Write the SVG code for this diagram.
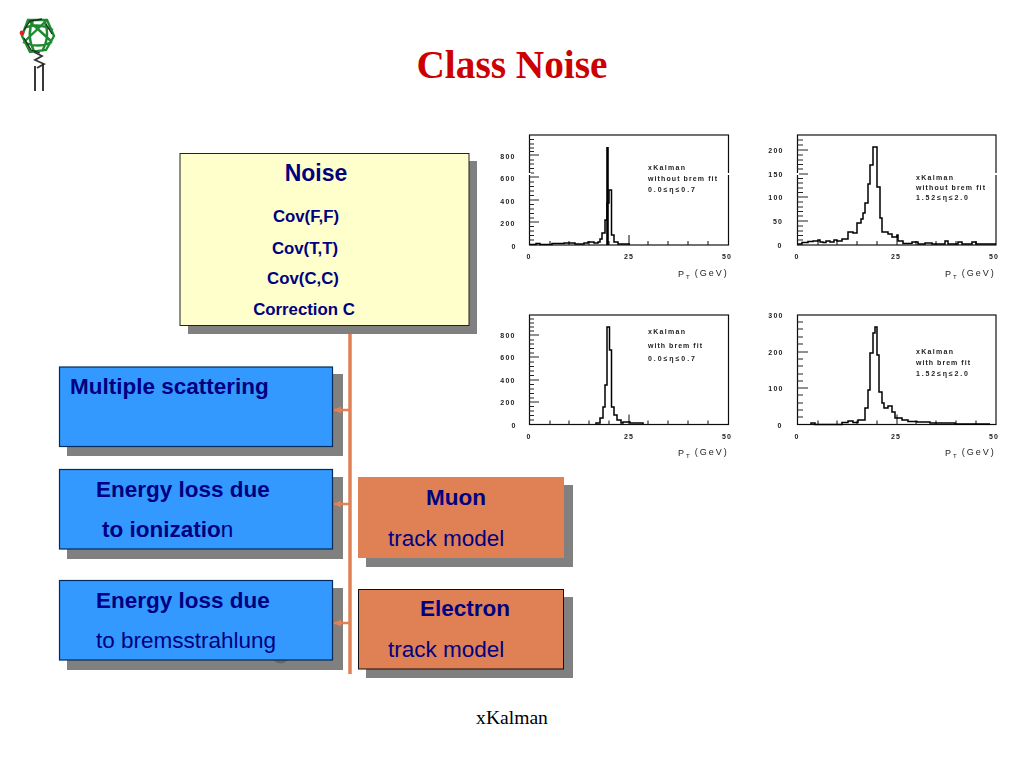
<svg xmlns="http://www.w3.org/2000/svg" width="1024" height="768" viewBox="0 0 1024 768">
<style>
text{font-family:"Liberation Sans",Arial,sans-serif;fill:#000080}
.title{font-family:"Liberation Serif","Times New Roman",serif;font-weight:700;font-size:39.300px;fill:#cc0000;text-anchor:middle}
.foot{font-family:"Liberation Serif","Times New Roman",serif;font-size:19.600px;fill:#000;text-anchor:middle}
.b{font-weight:700;font-size:22.500px}
.r{font-size:22.500px}
.c{font-weight:700;font-size:16.800px;text-anchor:middle}
.sh{fill:#808080}
.blue{fill:#3399ff;stroke:#002a5c;stroke-width:1.2}
.or{fill:#e08055}
.yl{fill:#ffffcc;stroke:#222;stroke-width:1}
.frame{fill:none;stroke:#111;stroke-width:1.2}
.tick{fill:none;stroke:#222;stroke-width:1.1}
.hist{fill:none;stroke:#000;stroke-width:1.5}
.peak{fill:none;stroke:#000;stroke-width:2.6}
.gap{stroke:#fff;stroke-width:2}
.p{filter:url(#soft)}
.p text{fill:#222;font-size:7px;font-weight:700}
.n{text-anchor:middle;letter-spacing:1.2px}
.pt{font-size:9px!important;font-weight:400!important;letter-spacing:2px}
.conn{fill:none;stroke:#e08055;stroke-width:3.500}
.arm{fill:none;stroke:#e08055;stroke-width:2.500}
.wire{fill:none;stroke:#1f8a2e;stroke-width:2.400}
.dark{fill:none;stroke:#1c2a1c;stroke-width:1.300}
</style>
<defs>
<filter id="soft" x="-5%" y="-5%" width="110%" height="110%"><feGaussianBlur stdDeviation="0.35"/></filter>
<marker id="ah" markerUnits="userSpaceOnUse" markerWidth="8" markerHeight="8" refX="7" refY="4" orient="auto"><path d="M0 0.6L7 4L0 7.400z" fill="#e08055"/></marker>
<g id="xt"><path class="tick" d="M21 0v-4M40 0v-4M60 0v-4M80 0v-4M100 0v-10M119 0v-4M139 0v-4M159 0v-4M179 0v-4"/></g>
</defs>

<text class="title" x="512" y="78">Class Noise</text>
<text class="foot" x="512" y="724">xKalman</text>

<g id="logo" filter="url(#soft)">
<path class="wire" d="M28 20L47 20L54 36L46 50L30 52L22 36zM24 28Q38 22 53 30M23 42Q38 49 52 42M33 20Q26 36 34 51M44 20Q51 36 42 51M28 20L52 42M47 20L24 42"/>
<path class="dark" d="M24 30L30 21L42 19M24 38L31 50L40 53M46 24L52 34"/>
<path d="M34 52L42 56L35 60L44 64L37 68" fill="none" stroke="#333" stroke-width="1.800"/>
<path d="M35 66V91M43 64V91" fill="none" stroke="#222" stroke-width="1.800"/>
<circle cx="22" cy="33" r="2.400" fill="#e02020"/>
</g>

<g id="noise">
<rect class="sh" x="188" y="161" width="289" height="173"/>
<rect class="yl" x="180" y="153.500" width="289" height="172"/>
<text x="316" y="181" font-size="23" font-weight="700" text-anchor="middle">Noise</text>
<text class="c" x="306" y="222">Cov(F,F)</text>
<text class="c" x="305" y="254">Cov(T,T)</text>
<text class="c" x="303" y="284">Cov(C,C)</text>
<text class="c" x="304" y="315">Correction C</text>
</g>

<g id="multiple-scattering">
<rect class="sh" x="67" y="374" width="276" height="82"/>
<rect class="blue" x="59.500" y="367" width="273" height="79.500"/>
<text class="b" x="70" y="394">Multiple scattering</text>
</g>

<g id="energy-ionization">
<rect class="sh" x="67" y="477" width="276" height="82"/>
<rect class="blue" x="59.500" y="469.500" width="273" height="79.500"/>
<text class="b" x="96" y="497">Energy loss due</text>
<text class="b" x="102" y="537">to ionizatio<tspan font-weight="400">n</tspan></text>
</g>

<g id="energy-brems">
<rect class="sh" x="67" y="588" width="276" height="82"/>
<path d="M273 660Q281 667 288 660" fill="#666"/>
<rect class="blue" x="59.500" y="580.500" width="273" height="79.500"/>
<text class="b" x="96" y="608">Energy loss due</text>
<text class="r" x="96" y="648">to bremsstrahlung</text>
</g>

<g id="muon">
<rect class="sh" x="366" y="485" width="207" height="82"/>
<rect class="or" x="358" y="477" width="206" height="81"/>
<text class="b" x="456" y="505" text-anchor="middle">Muon</text>
<text class="r" x="388" y="546">track model</text>
</g>

<g id="electron">
<rect class="sh" x="366" y="597" width="207" height="81"/>
<rect class="or" x="358.500" y="589.500" width="205" height="79.500" stroke="#111" stroke-width="1"/>
<text class="b" x="465" y="616" text-anchor="middle">Electron</text>
<text class="r" x="388" y="657">track model</text>
</g>

<g id="connectors">
<path class="conn" d="M350 334V674"/>
<path class="arm" marker-end="url(#ah)" d="M350 410H334"/>
<path class="arm" marker-end="url(#ah)" d="M350 504H334"/>
<path class="arm" marker-end="url(#ah)" d="M350 623H334"/>
</g>

<g id="plot1" class="p">
<rect class="frame" x="529.500" y="135" width="199" height="110"/>
<path class="tick" d="M529 155h10M529 177h10M529 200h10M529 222h10M529 139.500h5M529 144h5M529 148h5M529 151.500h5M529 160h5M529 164h5M529 168.500h5M529 173h5M529 182h5M529 186.500h5M529 191h5M529 195.500h5M529 204.500h5M529 209h5M529 213.500h5M529 218h5M529 226.500h5M529 231h5M529 235.500h5M529 240h5"/>
<use href="#xt" x="529" y="245"/>
<path class="gap" d="M528 174h3M727 174h3"/>
<path class="hist" d="M530 244.500H536V243.500H540V244.500H552V243.500H564V243H575V244H584V243H588V242H594V243H598V242H600V239H602V233H605V220H607V203H609V190H611.500V235H614V242H618V244H630"/>
<path class="peak" d="M607.500 245V147"/>
<g><text class="n" x="508" y="159">800</text><text class="n" x="508" y="181">600</text><text class="n" x="508" y="204">400</text><text class="n" x="508" y="226">200</text><text class="n" x="514" y="249">0</text><text class="n" x="529" y="259">0</text><text class="n" x="629" y="259">25</text><text class="n" x="727" y="259">50</text></g>
<text x="648" y="170" textLength="37" lengthAdjust="spacing">xKalman</text>
<text x="648" y="181" textLength="69" lengthAdjust="spacing">without brem fit</text>
<text x="648" y="192" textLength="47" lengthAdjust="spacing">0.0≤η≤0.7</text>
<text class="pt" x="678" y="277">P<tspan font-size="6" dy="2">T</tspan><tspan dy="-3" dx="3">(GeV)</tspan></text>
</g>

<g id="plot2" class="p">
<rect class="frame" x="797.500" y="135" width="198.500" height="110"/>
<path class="tick" d="M797 150h11M797 174h11M797 197h11M797 221h11M797 140h6M797 145h6M797 155h6M797 160h6M797 164.500h6M797 169h6M797 178.500h6M797 183h6M797 188h6M797 192.500h6M797 202h6M797 207h6M797 211.500h6M797 216h6M797 226h6M797 231h6M797 235.500h6M797 240h6"/>
<use href="#xt" x="797" y="245"/>
<path class="gap" d="M796 174h3M995 174h3"/>
<path class="hist" d="M798 244H802V242.500H808V241.500H813V241H818V240H820V242H823V242.500H826V241H830V242H834V240H837V241H842V239H848V232H853V233H857V223H861V219H863V213H865V203H868V184H870V165H873V147H877V187H880V218H882V232H888V234H892V237H897V235H898V241H903V243.500H912V242H918V244H925V243H932V244H945V241H948V244H958V242H962V244H972V242H976V244H996"/>
<g><text class="n" x="776" y="153">200</text><text class="n" x="776" y="177">150</text><text class="n" x="776" y="200">100</text><text class="n" x="778" y="224">50</text><text class="n" x="780" y="248">0</text><text class="n" x="797" y="259">0</text><text class="n" x="896" y="259">25</text><text class="n" x="994" y="259">50</text></g>
<text x="916" y="180" textLength="37" lengthAdjust="spacing">xKalman</text>
<text x="916" y="190" textLength="69" lengthAdjust="spacing">without brem fit</text>
<text x="916" y="200" textLength="52" lengthAdjust="spacing">1.52≤η≤2.0</text>
<text class="pt" x="945" y="277">P<tspan font-size="6" dy="2">T</tspan><tspan dy="-3" dx="3">(GeV)</tspan></text>
</g>

<g id="plot3" class="p">
<rect class="frame" x="529.500" y="315" width="199" height="109.500"/>
<path class="tick" d="M529 335h10M529 357h10M529 380h10M529 402h10M529 319h5M529 323h5M529 327h5M529 331h5M529 340h5M529 344h5M529 348.500h5M529 353h5M529 362h5M529 366.500h5M529 371h5M529 375.500h5M529 384.500h5M529 389h5M529 393.500h5M529 398h5M529 406.500h5M529 411h5M529 415.500h5M529 420h5"/>
<use href="#xt" x="529" y="424.500"/>
<path class="hist" d="M596 424.500V423H600V418H603V407H605V385H607V327H609.500V350H611.500V407H614V415H617V420H621V423H623V422H630V423H643V424.500"/>
<g><text class="n" x="508" y="338">800</text><text class="n" x="508" y="360">600</text><text class="n" x="508" y="383">400</text><text class="n" x="508" y="405">200</text><text class="n" x="514" y="428">0</text><text class="n" x="529" y="439">0</text><text class="n" x="629" y="439">25</text><text class="n" x="727" y="439">50</text></g>
<text x="648" y="334" textLength="37" lengthAdjust="spacing">xKalman</text>
<text x="648" y="348" textLength="54" lengthAdjust="spacing">with brem fit</text>
<text x="648" y="361" textLength="47" lengthAdjust="spacing">0.0≤η≤0.7</text>
<text class="pt" x="678" y="456">P<tspan font-size="6" dy="2">T</tspan><tspan dy="-3" dx="3">(GeV)</tspan></text>
</g>

<g id="plot4" class="p">
<rect class="frame" x="797.500" y="315" width="198.500" height="109.500"/>
<path class="tick" d="M797 352h11M797 388h11M797 322h6M797 329h6M797 337h6M797 344h6M797 359h6M797 366h6M797 374h6M797 381h6M797 395h6M797 403h6M797 410h6M797 417h6"/>
<use href="#xt" x="797" y="424.500"/>
<path class="hist" d="M811 424.500V423H815V424.500H842V422.500H848V421H853V422.500H858V420H865V408H868V390H870V353H873V333H875V327H877V355H879V392H882V403H884V408H888V406H892V412H895V418H902V420H908V421.500H917V422H930V423H955V424H990"/>
<g><text class="n" x="776" y="318">300</text><text class="n" x="776" y="355">200</text><text class="n" x="776" y="391">100</text><text class="n" x="780" y="428">0</text><text class="n" x="797" y="439">0</text><text class="n" x="896" y="439">25</text><text class="n" x="994" y="439">50</text></g>
<text x="916" y="354" textLength="37" lengthAdjust="spacing">xKalman</text>
<text x="916" y="365" textLength="54" lengthAdjust="spacing">with brem fit</text>
<text x="916" y="376" textLength="52" lengthAdjust="spacing">1.52≤η≤2.0</text>
<text class="pt" x="945" y="456">P<tspan font-size="6" dy="2">T</tspan><tspan dy="-3" dx="3">(GeV)</tspan></text>
</g>
</svg>
